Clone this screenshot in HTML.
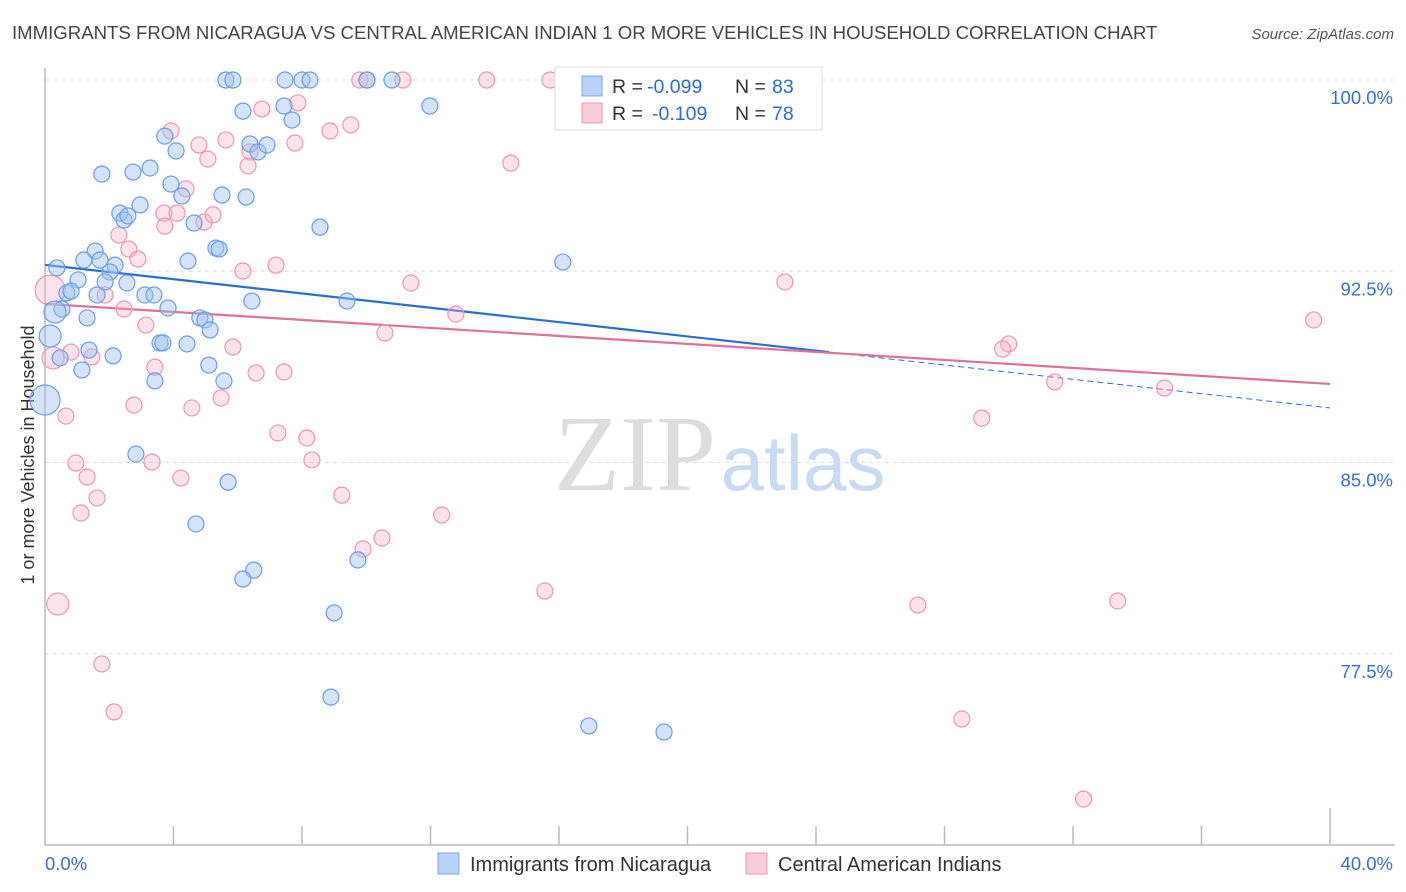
<!DOCTYPE html>
<html><head><meta charset="utf-8">
<style>
body{margin:0;background:#fff;font-family:"Liberation Sans",sans-serif;}
#wrap{position:relative;width:1406px;height:892px;overflow:hidden;}
</style></head>
<body>
<div id="wrap">
<svg id="svg" width="1406" height="892" xmlns="http://www.w3.org/2000/svg">
<text x="12" y="39" font-size="18.6" fill="#444">IMMIGRANTS FROM NICARAGUA VS CENTRAL AMERICAN INDIAN 1 OR MORE VEHICLES IN HOUSEHOLD CORRELATION CHART</text>
<text x="1394" y="39" font-size="15" fill="#555" font-style="italic" text-anchor="end">Source: ZipAtlas.com</text>
<text x="635" y="490" font-size="108" fill="#ddd" font-family="Liberation Serif,serif" text-anchor="middle">ZIP</text>
<text x="803" y="490" font-size="78" fill="#c9daf3" text-anchor="middle">atlas</text>
<text transform="translate(34,455) rotate(-90)" font-size="18" fill="#333" text-anchor="middle">1 or more Vehicles in Household</text>
<g id="grid"></g><g id="axes"></g><g id="lines"></g><g id="pts"></g>
<g>
<rect x="555" y="67" width="267" height="63" fill="#fff" stroke="#ddd"/>
<rect x="582" y="76" width="20" height="20" fill="#b9d2f7" stroke="#7fa8e6"/>
<text x="612" y="93" font-size="19.5" fill="#333">R =</text>
<text x="647" y="93" font-size="19.5" fill="#2a6dd9">-0.099</text>
<text x="735" y="93" font-size="19.5" fill="#333">N =</text>
<text x="772" y="93" font-size="19.5" fill="#2a6dd9">83</text>
<rect x="582" y="103" width="20" height="20" fill="#f9ccd9" stroke="#ec9ab5"/>
<text x="612" y="120" font-size="19.5" fill="#333">R =</text>
<text x="652" y="120" font-size="19.5" fill="#2a6dd9">-0.109</text>
<text x="735" y="120" font-size="19.5" fill="#333">N =</text>
<text x="772" y="120" font-size="19.5" fill="#2a6dd9">78</text>
</g>
<g>
<rect x="438" y="853" width="21" height="21" fill="#b9d2f7" stroke="#7fa8e6"/>
<text x="470" y="871" font-size="20" fill="#333">Immigrants from Nicaragua</text>
<rect x="746" y="853" width="21" height="21" fill="#f9ccd9" stroke="#ec9ab5"/>
<text x="778" y="871" font-size="20" fill="#333">Central American Indians</text>
</g>
</svg>
</div>
<script>
const blueX=[5.63,5.85,7.47,8.0,8.25,10.02,10.8,20.6,11.98,6.16,7.44,7.69,3.73,4.08,6.38,6.63,6.91,1.77,2.74,3.27,3.92,4.26,5.51,6.26,2.96,2.33,2.46,2.58,4.64,8.56,1.56,5.32,5.42,1.21,1.71,4.45,0.37,2.18,2.02,1.03,1.87,2.55,0.68,0.81,1.62,3.11,3.39,6.44,9.4,16.12,0.53,3.83,1.31,4.82,4.98,5.14,0.31,0.16,3.58,4.42,3.67,1.37,2.12,0.47,5.1,1.15,3.42,5.57,0.0,2.83,5.7,4.7,6.5,6.16,9.74,9.0,8.9,16.93,19.27];
const blueY=[100,100,100,100,100,100,100,100,98.98,98.78,98.98,98.43,97.8,97.22,97.49,97.18,97.45,96.31,96.39,96.55,95.92,95.45,95.49,95.41,95.1,94.78,94.51,94.67,94.39,94.23,93.29,93.41,93.37,92.94,92.94,92.9,92.63,92.74,92.47,92.16,92.08,92.04,91.65,91.72,91.57,91.57,91.57,91.33,91.33,92.86,91.02,91.06,90.67,90.67,90.59,90.2,90.9,89.96,89.69,89.65,89.69,89.41,89.18,89.1,88.82,88.63,88.2,88.2,87.45,85.33,84.23,82.59,80.78,80.43,81.18,79.1,75.8,74.67,74.43];
const blueR=[8,8,8,8,8,8,8,8,8,8,8,8,8,8,8,8,8,8,8,8,8,8,8,8,8,8,8,8,8,8,8,8,8,8,8,8,8,8,8,8,8,8,8,8,8,8,8,8,8,8,8,8,8,8,8,8,11,11,8,8,8,8,8,8,8,8,8,8,15,8,8,8,8,8,8,8,8,8,8];
const pinkX=[9.8,10.02,11.14,13.75,15.72,18.89,22.26,6.75,7.87,3.92,8.87,9.52,4.79,5.63,7.78,6.38,6.32,5.07,4.39,14.5,3.7,4.11,3.73,4.95,5.23,2.3,2.61,2.89,6.16,7.19,11.39,23.03,1.87,0.16,2.46,3.14,12.79,10.58,39.49,30.0,29.81,0.81,1.46,0.25,5.85,3.42,6.57,7.44,31.43,34.85,5.48,2.77,4.57,0.65,29.16,7.25,8.15,8.31,0.96,3.33,1.31,4.23,1.62,9.24,1.12,12.35,10.49,9.9,15.56,0.4,27.17,33.39,1.77,2.15,28.54,32.33];
const pinkY=[100,100,100,100,100,100,100,98.86,99.1,98.0,98.0,98.24,97.45,97.65,97.53,97.18,96.63,96.9,95.73,96.74,94.78,94.78,94.27,94.43,94.71,93.92,93.37,92.98,92.51,92.74,92.04,92.08,91.57,91.76,91.02,90.39,90.82,90.08,90.59,89.65,89.45,89.33,89.14,89.1,89.53,88.74,88.51,88.55,88.16,87.92,87.53,87.25,87.14,86.82,86.74,86.16,85.96,85.1,84.98,85.02,84.43,84.39,83.61,83.72,83.02,82.94,82.04,81.61,79.96,79.45,79.41,79.57,77.1,75.22,74.94,71.8];
const pinkR=[8,8,8,8,8,8,8,8,8,8,8,8,8,8,8,8,8,8,8,8,8,8,8,8,8,8,8,8,8,8,8,8,8,15,8,8,8,8,8,8,8,8,8,11,8,8,8,8,8,8,8,8,8,8,8,8,8,8,8,8,8,8,8,8,8,8,8,8,8,11,8,8,8,8,8,8];
const yTicks=[100,92.5,85,77.5];
const yTickLabels=["100.0%","92.5%","85.0%","77.5%"];
const xTicks=[0,4,8,12,16,20,24,28,32,36,40];
const blueTrend=[92.75,87.14], blueSolidEnd=24.4;
const pinkTrend=[91.22,88.08];
const NS="http://www.w3.org/2000/svg";
const X0=45,X1=1330,Y0=845,Y1=80;
const sx=v=>X0+(v/40)*(X1-X0);
const sy=v=>Y0-(v-70)/30*(Y0-Y1);
function mk(t,a,p){const e=document.createElementNS(NS,t);for(const k in a)e.setAttribute(k,a[k]);p.appendChild(e);return e;}
const grid=document.getElementById('grid'),axes=document.getElementById('axes'),lines=document.getElementById('lines'),pts=document.getElementById('pts');
yTicks.forEach((v,i)=>{
 const l=mk('line',{x1:X0,x2:1395,y1:sy(v),y2:sy(v),stroke:'#ddd','stroke-dasharray':'4,4'},grid);
 
 
 const t=mk('text',{x:1393,y:sy(v)+24,'font-size':18.5,fill:'#3a6fd1','text-anchor':'end'},grid);
 t.textContent=yTickLabels[i];
 
 
});
const ax=mk('path',{d:`M${X0} 68 V${Y0} H1395`,stroke:'#bbb',fill:'none','stroke-width':1.5},axes);


xTicks.forEach(v=>{if(v===0)return;
 const l=mk('line',{x1:sx(v),x2:sx(v),y1:v===40?808:826,y2:Y0,stroke:'#bbb','stroke-width':1.5},axes);
 
 
});
const xl=mk('text',{x:45,y:870,'font-size':18.5,fill:'#3a6fd1'},axes);xl.textContent='0.0%';


const xr=mk('text',{x:1393,y:870,'font-size':18.5,fill:'#3a6fd1','text-anchor':'end'},axes);xr.textContent='40.0%';


function drawPts(X,Y,R,fill,stroke,name){X.forEach((x,i)=>{
 const c=mk('circle',{cx:sx(x),cy:sy(Y[i]),r:R[i]||8,fill:fill,stroke:stroke,'stroke-width':1.2},pts);
 
 
});}
drawPts(pinkX,pinkY,pinkR,'rgba(246,176,199,0.35)','#eb98b4','point-central-american');
drawPts(blueX,blueY,blueR,'rgba(160,192,242,0.45)','#6d9de2','point-nicaragua');
const bAt=x=>blueTrend[0]+(blueTrend[1]-blueTrend[0])*x/40;
let l1=mk('line',{x1:sx(0),y1:sy(blueTrend[0]),x2:sx(blueSolidEnd),y2:sy(bAt(blueSolidEnd)),stroke:'#2a6dd9','stroke-width':2.2},lines);


let l2=mk('line',{x1:sx(blueSolidEnd),y1:sy(bAt(blueSolidEnd)),x2:sx(40),y2:sy(blueTrend[1]),stroke:'#2a6dd9','stroke-width':1,'stroke-dasharray':'6,4'},lines);


let l3=mk('line',{x1:sx(0),y1:sy(pinkTrend[0]),x2:sx(40),y2:sy(pinkTrend[1]),stroke:'#e0709a','stroke-width':2.2},lines);


</script>
</body></html>
